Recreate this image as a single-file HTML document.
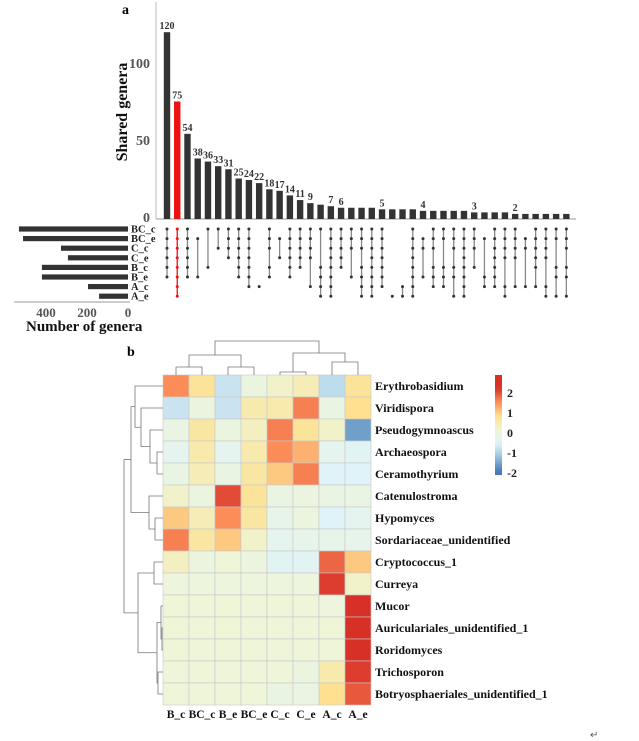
<!DOCTYPE html>
<html><head><meta charset="utf-8">
<style>
html,body{margin:0;padding:0;background:#fff;}
svg{display:block;font-family:"Liberation Serif",serif;}
</style></head>
<body>
<svg id="fig" width="639" height="741" viewBox="0 0 639 741" xmlns="http://www.w3.org/2000/svg">
<g id="upset"></g>
<g id="heat"></g>
<text x="590" y="738" font-size="10" fill="#555">↵</text>
</svg>
<script>
const NS="http://www.w3.org/2000/svg";
function mk(p,tag,attrs){const e=document.createElementNS(NS,tag);for(const k in attrs)e.setAttribute(k,attrs[k]);p.appendChild(e);return e;}

// ---------- Upset data ----------
const intersectionSizes=[120,75,54,38,36,33,31,25,24,22,18,17,14,11,9,8,7,6,6,6,6,5,5,5,5,4,4,4,4,4,3,3,3,3,2,2,2,2,2,2];
const labeledSizes=[120,75,54,38,36,33,31,25,24,22,18,17,14,11,9,null,7,6,null,null,null,5,null,null,null,4,null,null,null,null,3,null,null,null,2,null,null,null,null,null];
const setNames=["BC_c","BC_e","C_c","C_e","B_c","B_e","A_c","A_e"];
const setSizes=[532,512,327,293,420,420,195,141];
const memberships=[
[0,1,2,3,4,5],[0,1,2,3,4,5,6,7],[0,1,2,3,4,5],[1,5],[0,4],[0,2],[0,1,2,3],[0,1,2,3,4,5],
[0,1,2,3,4,5,6],[6],[0,1,2,4,5],[1,3],[0,1,2,3,4,5],[0,1,2,3,4],[0,1,2,3,6],
[0,4,5,6,7],[0,1,2,3,4,5,6,7],[0,1,2,3,4],[0,1,2,5],[0,1,2,4,5,6,7],[0,1,2,3,4,5,6,7],
[0,1,2,3,4,5,6],[7],[6,7],[0,1,2,3,4,5,6,7],[1,2,5],[0,1,2,4,5,6],[0,1,4,5,6],
[0,1,2,4,5,7],[0,1,2,3,4,5,6,7],[0,1,2,4],[1,5,6],[0,1,2,3,4,5,6],[0,1,2,3,6,7],
[0,1,2,3,6],[1,2,6],[0,1,2,3,4,6],[0,1,2,3,6,7],[0,1,4,5,7],[0,1,2,4,5,7]];
const yTicks=[0,50,100];
const xTicksSet=[400,200,0];
const highlightIndex=1;

const U=document.getElementById('upset');
const yScale=v=>217-v*1.54;
const xCol=i=>167+i*10.24;
const yRow=r=>229+r*9.6;
const xSet=v=>128-v*0.205;

mk(U,'line',{x1:156,y1:2,x2:156,y2:219,stroke:'#bbb','stroke-width':1,});
mk(U,'line',{x1:156,y1:219,x2:576,y2:219,stroke:'#999','stroke-width':1,});
yTicks.forEach(t=>{const e=mk(U,'text',{x:150,y:yScale(t)+5,'text-anchor':'end','font-size':14,'font-weight':'bold',fill:'#555'});e.textContent=t;
});
let yt=mk(U,'text',{x:0,y:0,transform:'translate(127,112) rotate(-90)','text-anchor':'middle','font-size':16,'font-weight':'bold',fill:'#111'});yt.textContent='Shared genera';

let la=mk(U,'text',{x:122,y:14,'font-size':14,'font-weight':'bold'});la.textContent='a';


intersectionSizes.forEach((v,i)=>{
  const col=i===highlightIndex?'#ee1111':'#333';
  const r=mk(U,'rect',{x:xCol(i)-3.2,y:yScale(v),width:6.4,height:219-yScale(v),fill:col});
  
  if(labeledSizes[i]!==null){const t=mk(U,'text',{x:xCol(i),y:yScale(v)-3,'text-anchor':'middle','font-size':10,'font-weight':'bold',fill:'#333'});t.textContent=labeledSizes[i];
  }
  const m=memberships[i];const mn=Math.min(...m),mx=Math.max(...m);
  const lc=i===highlightIndex?'#ee1111':'#888';
  if(mx>mn){const l=mk(U,'line',{x1:xCol(i),y1:yRow(mn),x2:xCol(i),y2:yRow(mx),stroke:lc,'stroke-width':1.3});
  }
  m.forEach(r=>{const c=mk(U,'circle',{cx:xCol(i),cy:yRow(r),r:1.5,fill:i===highlightIndex?'#ee1111':'#333'});
  });
});
setNames.forEach((n,r)=>{
  const b=mk(U,'rect',{x:xSet(setSizes[r]),y:yRow(r)-2.6,width:128-xSet(setSizes[r]),height:5.2,fill:'#333'});
  
  const t=mk(U,'text',{x:131,y:yRow(r)+3.5,'font-size':10.5,'font-weight':'bold',fill:'#222'});t.textContent=n;
  
});
mk(U,'line',{x1:14,y1:302,x2:130,y2:302,stroke:'#999','stroke-width':1,});
xTicksSet.forEach(t=>{const e=mk(U,'text',{x:xSet(t),y:317,'text-anchor':'middle','font-size':13,'font-weight':'bold',fill:'#555'});e.textContent=t;
});
let st=mk(U,'text',{x:26,y:331,'font-size':15,'font-weight':'bold',fill:'#111'});st.textContent='Number of genera';


// ---------- Heatmap data ----------
const hmCols=["B_c","BC_c","B_e","BC_e","C_c","C_e","A_c","A_e"];
const hmRows=["Erythrobasidium","Viridispora","Pseudogymnoascus","Archaeospora","Ceramothyrium","Catenulostroma","Hypomyces","Sordariaceae_unidentified","Cryptococcus_1","Curreya","Mucor","Auriculariales_unidentified_1","Roridomyces","Trichosporon","Botryosphaeriales_unidentified_1"];
const hmValues=[
[1.5,0.7,-0.8,-0.1,0.2,0.4,-0.9,0.7],
[-0.8,-0.1,-0.8,0.5,0.5,1.6,-0.2,0.8],
[-0.2,0.6,-0.1,0.3,1.6,0.7,0.2,-1.6],
[-0.4,0.5,-0.4,0.5,1.5,1.2,-0.4,-0.5],
[-0.2,0.4,-0.2,0.6,1.0,1.6,-0.6,-0.6],
[0.2,-0.1,2.0,0.7,-0.2,-0.1,-0.2,-0.2],
[1.0,0.4,1.5,0.6,-0.3,-0.1,-0.6,-0.4],
[1.6,0.6,1.0,0.2,-0.4,-0.3,-0.3,-0.3],
[0.3,-0.1,0.05,-0.1,-0.5,-0.5,1.8,1.0],
[-0.05,-0.05,-0.05,-0.05,-0.05,-0.05,2.1,0.2],
[0.05,0,0.05,0,0,0,-0.05,2.2],
[0.05,0,0.05,0,0,0,0.05,2.2],
[0.05,0,0.05,0,0,0,0.05,2.2],
[0,0,0,0,0,-0.1,0.5,2.1],
[0,0,0,0,-0.2,-0.2,0.8,1.9]];
const legendTicks=[2,1,0,-1,-2];
const colDendro=[[[0,1,367],[2,3,367],355],[[4,5,372],[6,7,362],353],341];
const rowDendro=[[[0,[1,[2,[3,4,157],150],141],135],[5,[6,7,155],149],131],[[8,9,154],[[10,[11,12,162],161],[13,14,158],157],138],124];

const palette=[[69,117,180],[145,191,219],[224,243,248],[240,245,212],[254,224,144],[252,141,89],[215,48,39]];
function colorOf(v){let t=(Math.max(-2.0,Math.min(2.2,v))+2.0)/4.2*6;t=Math.max(0,Math.min(6,t));let i=Math.min(5,Math.floor(t)),f=t-i;
const a=palette[i],b=palette[i+1];return 'rgb('+a.map((c,k)=>Math.round(c+(b[k]-c)*f)).join(',')+')';}

const H=document.getElementById('heat');
const cx0=163,cw=26,ry0=375,rh=22;
hmValues.forEach((row,r)=>row.forEach((v,c)=>{
  const e=mk(H,'rect',{x:cx0+c*cw,y:ry0+r*rh,width:cw,height:rh,fill:colorOf(v),stroke:'#c8c8c8','stroke-width':0.6});
  
}));
hmRows.forEach((n,r)=>{const t=mk(H,'text',{x:375,y:ry0+r*rh+15,'font-size':12,'font-weight':'bold',fill:'#111'});t.textContent=n;
});
hmCols.forEach((n,c)=>{const t=mk(H,'text',{x:cx0+c*cw+cw/2,y:718,'text-anchor':'middle','font-size':11.5,'font-weight':'bold',fill:'#111'});t.textContent=n;
});
let lb=mk(H,'text',{x:127,y:356,'font-size':14,'font-weight':'bold'});lb.textContent='b';


function drawCol(node){
  if(typeof node==='number')return [cx0+node*cw+cw/2,ry0];
  const a=drawCol(node[0]),b=drawCol(node[1]),h=node[2];
  const p=mk(H,'path',{d:`M${a[0]},${a[1]}V${h}H${b[0]}V${b[1]}`,fill:'none',stroke:'#777','stroke-width':0.8});
  
  return [(a[0]+b[0])/2,h];
}
function drawRow(node){
  if(typeof node==='number')return [cx0,ry0+node*rh+rh/2];
  const a=drawRow(node[0]),b=drawRow(node[1]),h=node[2];
  const p=mk(H,'path',{d:`M${a[0]},${a[1]}H${h}V${b[1]}H${b[0]}`,fill:'none',stroke:'#777','stroke-width':0.8});
  
  return [h,(a[1]+b[1])/2];
}
drawCol(colDendro);drawRow(rowDendro);

const defs=mk(H,'defs',{});
const g=mk(defs,'linearGradient',{id:'lg',x1:0,y1:1,x2:0,y2:0});
for(let k=0;k<=20;k++){const v=-2.15+5*k/20;mk(g,'stop',{offset:(k/20),'stop-color':colorOf(v)});}
const lgScale=v=>432-v*20;
mk(H,'rect',{x:495,y:lgScale(2.85),width:7,height:100,fill:'url(#lg)',});
legendTicks.forEach(t=>{const e=mk(H,'text',{x:507,y:lgScale(t)+5,'font-size':12,'font-weight':'bold',fill:'#222'});e.textContent=t;
});
</script>
</body></html>
